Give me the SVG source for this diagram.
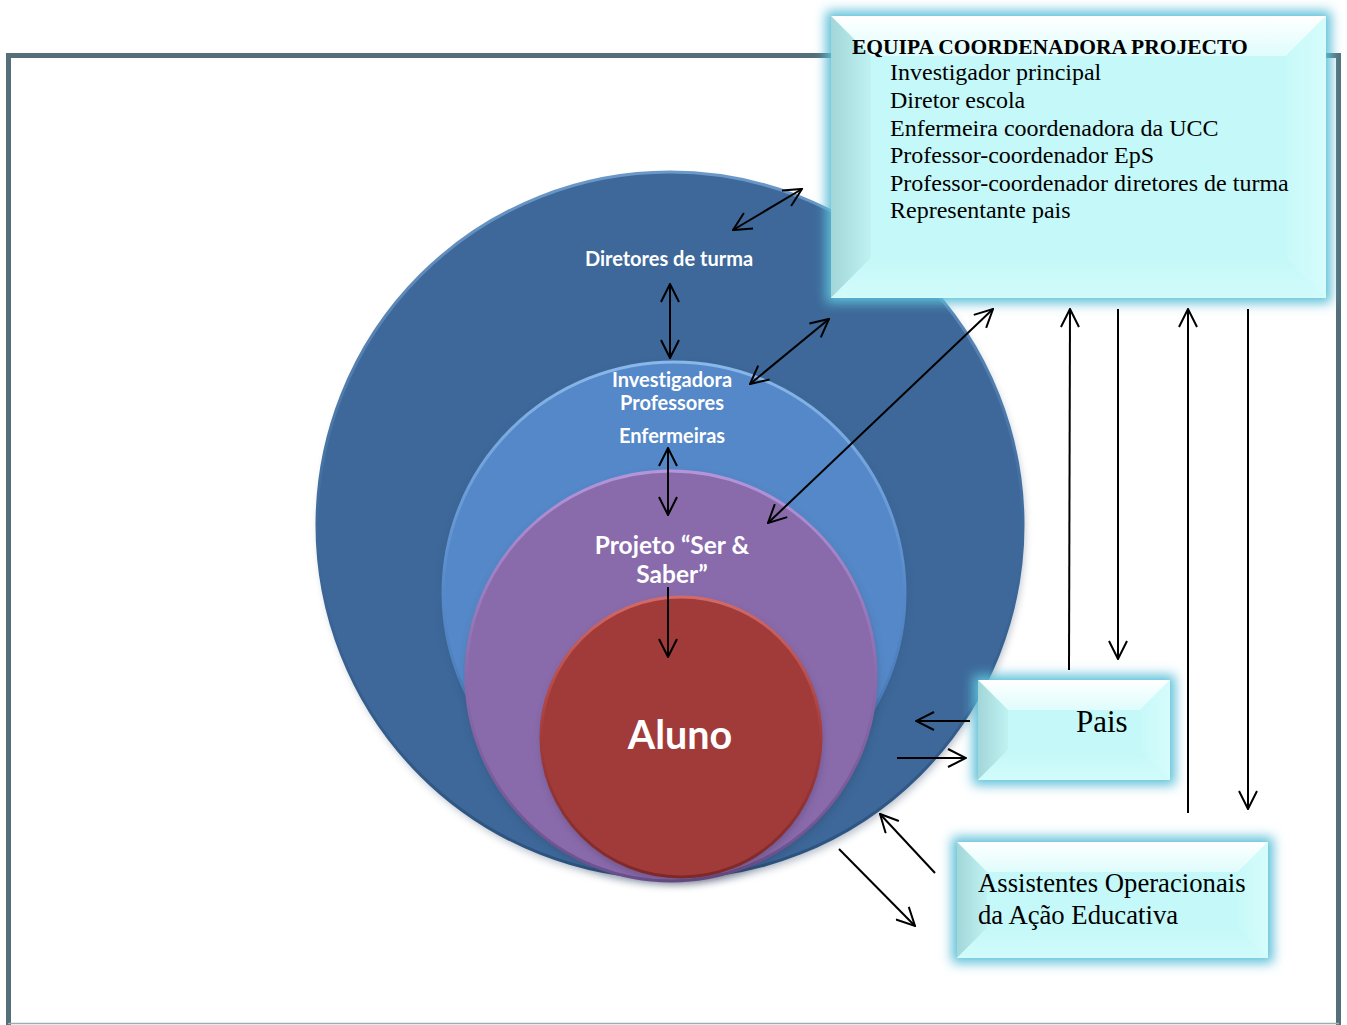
<svg xmlns="http://www.w3.org/2000/svg" width="1347" height="1025" viewBox="0 0 1347 1025">
<style>
.frame{fill:none;stroke:#546F79;stroke-width:5}
.conn{stroke:#000;stroke-width:2;fill:none}
.ctext{font-family:Lato,"Open Sans",sans-serif;font-weight:bold;fill:#fff;text-anchor:middle;font-variant-ligatures:none}
.btext{font-family:"Liberation Serif","Times New Roman",serif;fill:#000}
.boxfill{fill:#C5F8F8}
</style>
<defs>
<marker id="ah" viewBox="0 0 20 20" refX="19" refY="10" markerWidth="20" markerHeight="20" markerUnits="userSpaceOnUse" orient="auto-start-reverse">
<path d="M1,1 L19,10 L1,19" fill="none" stroke="#000" stroke-width="2"/>
</marker>
<filter id="glow" x="-20%" y="-20%" width="140%" height="140%">
<feGaussianBlur stdDeviation="6"/>
</filter>
<filter id="shadow" x="-10%" y="-10%" width="120%" height="125%">
<feGaussianBlur stdDeviation="4"/>
</filter>
<linearGradient id="rimDark" x1="0" y1="0" x2="0" y2="1">
<stop offset="0" stop-color="#6A98C8"/><stop offset="0.5" stop-color="#3E6A9C"/><stop offset="1" stop-color="#2C527E"/>
</linearGradient>
<linearGradient id="rimLight" x1="0" y1="0" x2="0" y2="1">
<stop offset="0" stop-color="#8AB8EA"/><stop offset="0.5" stop-color="#5589C9"/><stop offset="1" stop-color="#3F6FA8"/>
</linearGradient>
<linearGradient id="rimPurple" x1="0" y1="0" x2="0" y2="1">
<stop offset="0" stop-color="#B595DA"/><stop offset="0.5" stop-color="#8A6BAC"/><stop offset="1" stop-color="#6C4F8C"/>
</linearGradient>
<linearGradient id="rimRed" x1="0" y1="0" x2="0" y2="1">
<stop offset="0" stop-color="#D46A68"/><stop offset="0.5" stop-color="#A23B3A"/><stop offset="1" stop-color="#7E2828"/>
</linearGradient>
<linearGradient id="bvTop" x1="0" y1="0" x2="0" y2="1">
<stop offset="0" stop-color="#FFFFFF"/><stop offset="1" stop-color="#DFFCFC"/>
</linearGradient>
<linearGradient id="bvLeft" x1="0" y1="0" x2="1" y2="0">
<stop offset="0" stop-color="#A2D6D8"/><stop offset="1" stop-color="#C0F2F2"/>
</linearGradient>
<linearGradient id="bvBottom" x1="0" y1="0" x2="0" y2="1">
<stop offset="0" stop-color="#C5F8F8"/><stop offset="1" stop-color="#D2FBFB"/>
</linearGradient>
<linearGradient id="bvRight" x1="0" y1="0" x2="1" y2="0">
<stop offset="0" stop-color="#C8F9F9"/><stop offset="1" stop-color="#D6FCFC"/>
</linearGradient>
</defs>

<rect width="1347" height="1025" fill="#fff"/>

<g id="frame">
<path class="frame" d="M8.5,1025 L8.5,55.5 L1338.5,55.5 L1338.5,1025"/>
<line x1="8" y1="1023.5" x2="1339" y2="1023.5" stroke="#9AAEB4" stroke-width="1.5"/>
</g>

<g id="circle-diretores">
<circle cx="672" cy="530" r="352" fill="#1B3553" opacity="0.35" filter="url(#shadow)"/>
<circle cx="670" cy="525" r="353" fill="#3D6899" stroke="url(#rimDark)" stroke-width="3"/>
<text class="ctext" x="669" y="266" font-size="20">Diretores de turma</text>
</g>

<g id="circle-investigadora">
<circle cx="674" cy="596" r="231" fill="#2A4B73" opacity="0.35" filter="url(#shadow)"/>
<circle cx="674" cy="593" r="231" fill="#5588C8" stroke="url(#rimLight)" stroke-width="3"/>
<text class="ctext" x="672" y="387" font-size="20">Investigadora</text>
<text class="ctext" x="672" y="410" font-size="20">Professores</text>
<text class="ctext" x="672" y="443" font-size="20">Enfermeiras</text>
</g>

<g id="circle-projeto">
<circle cx="672" cy="680" r="205" fill="#2A3E5C" opacity="0.35" filter="url(#shadow)"/>
<circle cx="671" cy="676" r="205" fill="#896BAC" stroke="url(#rimPurple)" stroke-width="3"/>
<text class="ctext" x="672" y="554" font-size="24.5">Projeto “Ser &amp;</text>
<text class="ctext" x="672" y="583" font-size="24.5">Saber”</text>
</g>

<g id="circle-aluno">
<circle cx="682" cy="741" r="140" fill="#3A2540" opacity="0.35" filter="url(#shadow)"/>
<circle cx="681" cy="737" r="140" fill="#A13B3A" stroke="url(#rimRed)" stroke-width="3"/>
<text class="ctext" x="680" y="749" font-size="39.5">Aluno</text>
</g>

<g id="box-equipa">
<rect x="826" y="11" width="505" height="292" fill="#5CBFD8" filter="url(#glow)"/>
<rect class="boxfill" x="831" y="16" width="495" height="282"/>
<polygon points="831,16 1326,16 1286,56 871,56" fill="url(#bvTop)"/>
<polygon points="831,16 871,56 871,258 831,298" fill="url(#bvLeft)"/>
<polygon points="831,298 871,258 1286,258 1326,298" fill="url(#bvBottom)"/>
<polygon points="1326,16 1326,298 1286,258 1286,56" fill="url(#bvRight)"/>
<rect class="boxfill" x="871" y="56" width="415" height="202"/>
<text class="btext" x="852" y="54" font-size="21.5" font-weight="bold">EQUIPA COORDENADORA PROJECTO</text>
<text class="btext" x="890" y="80" font-size="24">Investigador principal</text>
<text class="btext" x="890" y="108" font-size="24">Diretor escola</text>
<text class="btext" x="890" y="136" font-size="24">Enfermeira coordenadora da UCC</text>
<text class="btext" x="890" y="163" font-size="24">Professor-coordenador EpS</text>
<text class="btext" x="890" y="191" font-size="24">Professor-coordenador diretores de turma</text>
<text class="btext" x="890" y="218" font-size="24">Representante pais</text>
</g>

<g id="box-pais">
<rect x="973" y="675" width="202" height="110" fill="#5CBFD8" filter="url(#glow)"/>
<rect class="boxfill" x="978" y="680" width="192" height="100"/>
<polygon points="978,680 1170,680 1140,710 1008,710" fill="url(#bvTop)"/>
<polygon points="978,680 1008,710 1008,750 978,780" fill="url(#bvLeft)"/>
<polygon points="978,780 1008,750 1140,750 1170,780" fill="url(#bvBottom)"/>
<polygon points="1170,680 1170,780 1140,750 1140,710" fill="url(#bvRight)"/>
<rect class="boxfill" x="1008" y="710" width="132" height="40"/>
<text class="btext" x="1076" y="732" font-size="31">Pais</text>
</g>

<g id="box-assistentes">
<rect x="952" y="837" width="321" height="126" fill="#5CBFD8" filter="url(#glow)"/>
<rect class="boxfill" x="957" y="842" width="311" height="116"/>
<polygon points="957,842 1268,842 1238,872 987,872" fill="url(#bvTop)"/>
<polygon points="957,842 987,872 987,928 957,958" fill="url(#bvLeft)"/>
<polygon points="957,958 987,928 1238,928 1268,958" fill="url(#bvBottom)"/>
<polygon points="1268,842 1268,958 1238,928 1238,872" fill="url(#bvRight)"/>
<rect class="boxfill" x="987" y="872" width="251" height="56"/>
<text class="btext" x="978" y="892" font-size="26.7">Assistentes Operacionais</text>
<text class="btext" x="978" y="924" font-size="26.7">da Ação Educativa</text>
</g>

<g id="connectors">
<line class="conn" x1="733" y1="230" x2="802" y2="189" marker-start="url(#ah)" marker-end="url(#ah)"/>
<line class="conn" x1="670" y1="284" x2="670" y2="358" marker-start="url(#ah)" marker-end="url(#ah)"/>
<line class="conn" x1="750" y1="384" x2="829" y2="319" marker-start="url(#ah)" marker-end="url(#ah)"/>
<line class="conn" x1="768" y1="523" x2="993" y2="309" marker-start="url(#ah)" marker-end="url(#ah)"/>
<line class="conn" x1="668" y1="448" x2="668" y2="515" marker-start="url(#ah)" marker-end="url(#ah)"/>
<line class="conn" x1="668" y1="587" x2="668" y2="657" marker-end="url(#ah)"/>
<line class="conn" x1="1069" y1="670" x2="1070" y2="309" marker-end="url(#ah)"/>
<line class="conn" x1="1118" y1="309" x2="1118" y2="659" marker-end="url(#ah)"/>
<line class="conn" x1="1188" y1="813" x2="1188" y2="309" marker-end="url(#ah)"/>
<line class="conn" x1="1248" y1="309" x2="1248" y2="809" marker-end="url(#ah)"/>
<line class="conn" x1="970" y1="721" x2="916" y2="721" marker-end="url(#ah)"/>
<line class="conn" x1="897" y1="758" x2="966" y2="758" marker-end="url(#ah)"/>
<line class="conn" x1="935" y1="873" x2="880" y2="814" marker-end="url(#ah)"/>
<line class="conn" x1="839" y1="849" x2="915" y2="926" marker-end="url(#ah)"/>
</g>
</svg>
